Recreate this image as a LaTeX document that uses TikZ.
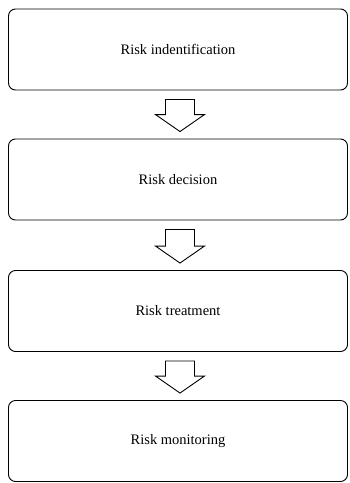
\documentclass[tikz,border=0pt]{standalone}
\usepackage{fontspec}
\setmainfont{Liberation Serif}
\usetikzlibrary{calc}
\begin{document}
\begin{tikzpicture}[x=1pt,y=-1pt,
  stagebox/.style={draw,rounded corners=7pt,line width=0.9pt,minimum width=339pt,minimum height=81pt,font=\fontsize{14.5}{17}\selectfont,inner sep=0pt},
  fatarrow/.style={draw,line width=0.9pt,fill=white}]
\useasboundingbox (0,0) rectangle (349,483);
\node[stagebox] (b1) at (178,49.5) {Risk indentification};
\node[stagebox] (b2) at (178,179.5) {Risk decision};
\node[stagebox] (b3) at (178,311) {Risk treatment};
\node[stagebox] (b4) at (178,441) {Risk monitoring};
\foreach \a/\b in {b1/b2,b2/b3,b3/b4}{
  \path (\a.south) ++(2,9) coordinate (\a top);
  \path (\b.north) ++(2,-7) coordinate (\a tip);
  \draw[fatarrow] ($(\a top)+(-14.5,0)$) -- ($(\a top)+(14.5,0)$) -- ($(\a tip)+(14.5,-17)$) -- ($(\a tip)+(24.5,-17)$) -- (\a tip) -- ($(\a tip)+(-24.5,-17)$) -- ($(\a tip)+(-14.5,-17)$) -- cycle;
}
\end{tikzpicture}
\end{document}
